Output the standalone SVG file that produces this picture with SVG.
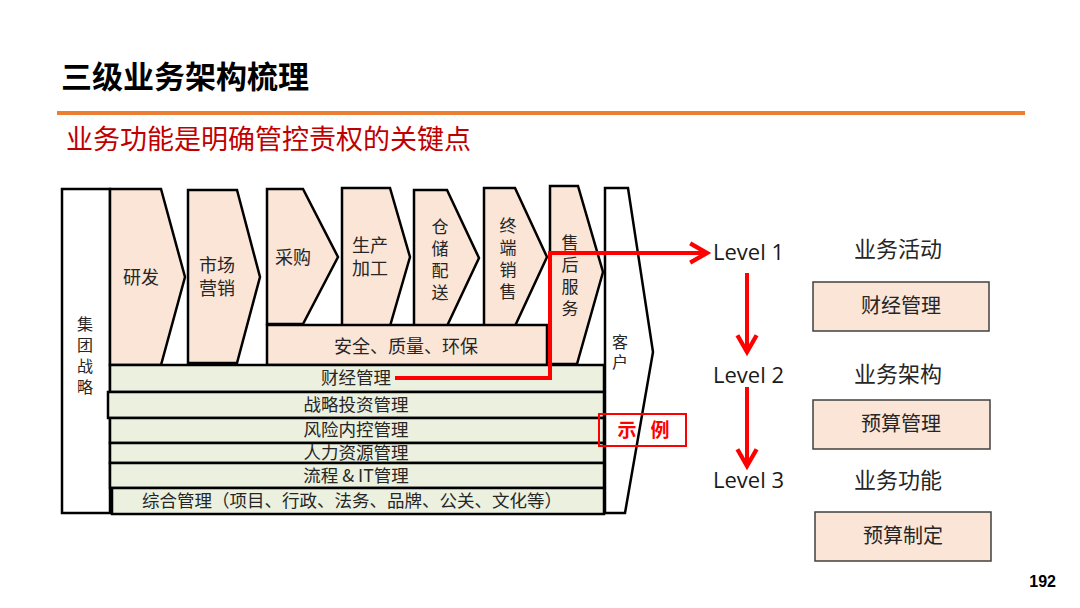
<svg xmlns="http://www.w3.org/2000/svg" width="1080" height="608" viewBox="0 0 1080 608">
<defs>
<style>
.t{font-family:"Noto Sans CJK SC","Noto Sans",sans-serif;fill:#262626}
.c{fill:#FBE5D6;stroke:#000;stroke-width:2.5;stroke-linejoin:miter}
.b{fill:#EBF0DF;stroke:#000;stroke-width:2.5}
.w{fill:#fff;stroke:#000;stroke-width:2.5}
.box{fill:#FBE5D6;stroke:#404040;stroke-width:1.5}
.lv{font-family:"Open Sans","Noto Sans",sans-serif;font-size:22px;fill:#1a1a1a}
.red{stroke:#FF0000;stroke-width:4;fill:none}
</style>
<marker id="ah" viewBox="0 0 10 10" refX="8" refY="5" markerWidth="6" markerHeight="6" orient="auto" markerUnits="strokeWidth">
<path d="M1,1 L8,5 L1,9" fill="none" stroke="#FF0000" stroke-width="1.8"/>
</marker>
</defs>
<rect width="1080" height="608" fill="#fff"/>
<text x="61" y="88" class="t" style="font-size:31px;font-weight:bold;fill:#000">三级业务架构梳理</text>
<rect x="57" y="111" width="968" height="4" fill="#ED7D31"/>
<text x="66" y="149" class="t" style="font-size:27px;fill:#C00000">业务功能是明确管控责权的关键点</text>

<g id="n-jituan">
<rect x="62" y="189" width="48" height="324" class="w"/>
<text class="t" font-size="16" text-anchor="middle" x="85"><tspan x="85" y="330">集</tspan><tspan x="85" y="351">团</tspan><tspan x="85" y="372">战</tspan><tspan x="85" y="393">略</tspan></text>
</g>
<g id="n-kehu">
<path d="M605,188 L628,188 L653,352 L625,513 L605,513 Z" class="w"/>
<text class="t" font-size="16" text-anchor="middle"><tspan x="620" y="348">客</tspan><tspan x="620" y="368">户</tspan></text>
</g>
<g id="n-yanfa">
<path d="M110,189 L161,189 L185,277 L161,365 L110,365 Z" class="c"/>
<text class="t" font-size="18" x="141" y="284" text-anchor="middle">研发</text>
</g>
<g id="n-shichang">
<path d="M188,190 L237,190 L260,277 L237,363 L188,363 Z" class="c"/>
<text class="t" font-size="18" text-anchor="middle"><tspan x="217" y="272">市场</tspan><tspan x="217" y="295">营销</tspan></text>
</g>
<g id="n-caigou">
<path d="M267,189 L303,189 L338,257 L303,324 L267,324 Z" class="c"/>
<text class="t" font-size="18" x="293" y="264" text-anchor="middle">采购</text>
</g>
<g id="n-shengchan">
<path d="M342,188 L390,188 L410,257 L390,326 L342,326 Z" class="c"/>
<text class="t" font-size="18" text-anchor="middle"><tspan x="370" y="252">生产</tspan><tspan x="370" y="275">加工</tspan></text>
</g>
<g id="n-cangchu">
<path d="M414,190 L447,190 L479,258 L447,326 L414,326 Z" class="c"/>
<text class="t" font-size="17" text-anchor="middle"><tspan x="440" y="233">仓</tspan><tspan x="440" y="255">储</tspan><tspan x="440" y="277">配</tspan><tspan x="440" y="299">送</tspan></text>
</g>
<g id="n-zhongduan">
<path d="M484,188 L515,188 L547,257 L515,326 L484,326 Z" class="c"/>
<text class="t" font-size="17" text-anchor="middle"><tspan x="508" y="232">终</tspan><tspan x="508" y="254">端</tspan><tspan x="508" y="276">销</tspan><tspan x="508" y="298">售</tspan></text>
</g>
<g id="n-anquan">
<rect x="267" y="325" width="280" height="40" class="c"/>
<text class="t" font-size="18" x="406" y="353" text-anchor="middle">安全、质量、环保</text>
</g>
<g id="n-shouhou">
<path d="M550,186 L578,186 L603,272 L577,364 L550,364 Z" class="c"/>
<text class="t" font-size="17" text-anchor="middle"><tspan x="570" y="249">售</tspan><tspan x="570" y="271">后</tspan><tspan x="570" y="293">服</tspan><tspan x="570" y="315">务</tspan></text>
</g>
<g id="n-bands">
<rect x="110" y="365" width="494" height="27" class="b"/>
<text class="t" font-size="17.5" x="356" y="384" text-anchor="middle">财经管理</text>
<rect x="108" y="392" width="496" height="26" class="b"/>
<text class="t" font-size="17.5" x="356" y="411" text-anchor="middle">战略投资管理</text>
<rect x="110" y="418" width="494" height="25" class="b"/>
<text class="t" font-size="17.5" x="356" y="436" text-anchor="middle">风险内控管理</text>
<rect x="110" y="443" width="494" height="20" class="b"/>
<text class="t" font-size="17.5" x="356" y="459" text-anchor="middle">人力资源管理</text>
<rect x="110" y="463" width="494" height="25" class="b"/>
<text class="t" font-size="17.5" x="356" y="482" text-anchor="middle">流程 &amp; IT管理</text>
<rect x="112" y="488" width="492" height="26" class="b"/>
<text class="t" font-size="17.5" x="352" y="507" text-anchor="middle">综合管理（项目、行政、法务、品牌、公关、文化等）</text>
</g>
<g id="n-shili">
<rect x="599" y="414" width="87" height="32" fill="none" stroke="#FF0000" stroke-width="2"/>
<text class="t" font-size="19" font-weight="bold" style="fill:#FF0000" x="627" y="437" text-anchor="middle">示</text>
<text class="t" font-size="19" font-weight="bold" style="fill:#FF0000" x="660" y="437" text-anchor="middle">例</text>
</g>
<g id="n-levels">
<text class="lv" x="713" y="260">Level 1</text>
<text class="lv" x="713" y="383">Level 2</text>
<text class="lv" x="713" y="488">Level 3</text>
<text class="t" font-size="22" x="898" y="257" text-anchor="middle">业务活动</text>
<text class="t" font-size="22" x="898" y="382" text-anchor="middle">业务架构</text>
<text class="t" font-size="22" x="898" y="488" text-anchor="middle">业务功能</text>
</g>
<g id="n-box1"><rect x="813" y="282" width="176" height="49" class="box"/><text class="t" font-size="20" x="901" y="313" text-anchor="middle">财经管理</text></g>
<g id="n-box2"><rect x="813" y="400" width="177" height="49" class="box"/><text class="t" font-size="20" x="901" y="431" text-anchor="middle">预算管理</text></g>
<g id="n-box3"><rect x="815" y="512" width="176" height="49" class="box"/><text class="t" font-size="20" x="903" y="543" text-anchor="middle">预算制定</text></g>
<g id="connectors">
<path d="M395,378 L550,378 L550,253 L707,253" class="red" marker-end="url(#ah)"/>
<path d="M747,273 L747,352" class="red" marker-end="url(#ah)"/>
<path d="M747,387 L747,466" class="red" marker-end="url(#ah)"/>
</g>
<text x="1056" y="587" text-anchor="end" style="font-family:'Liberation Sans',Arial,sans-serif;font-size:16px;font-weight:bold;fill:#000">192</text>
</svg>
